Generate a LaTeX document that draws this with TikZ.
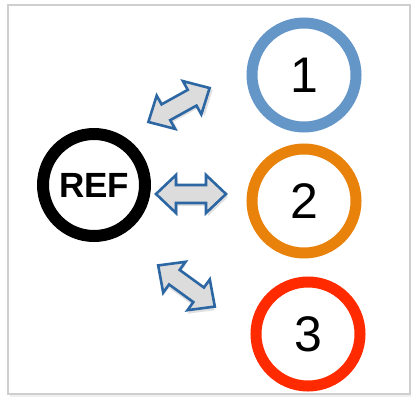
\documentclass[tikz,border=0pt]{standalone}
\usepackage{fontspec}
\setmainfont{Liberation Sans}
\usetikzlibrary{shadows}
\definecolor{ringblue}{HTML}{6496C8}
\definecolor{ringorange}{HTML}{E8820A}
\definecolor{ringred}{HTML}{FF2A00}
\definecolor{arrowedge}{HTML}{2C67A3}
\definecolor{arrowfill}{HTML}{DCDCDC}
\definecolor{framegray}{HTML}{CFCFCF}
\tikzset{
  ring/.style={circle, line width=11pt, minimum size=104pt, inner sep=0pt, fill=white,
    font=\fontsize{50}{50}\selectfont,
    drop shadow={opacity=0.18, shadow xshift=2pt, shadow yshift=-3pt}},
  refring/.style={circle, draw=black, line width=12pt, minimum size=102pt, inner sep=0pt, fill=white,
    font=\bfseries\fontsize{35}{35}\selectfont,
    drop shadow={opacity=0.18, shadow xshift=2pt, shadow yshift=-3pt}},
  arrowstyle/.style={draw=arrowedge, fill=arrowfill, line width=2.6pt, line join=miter},
  dblarr/.pic={
    \fill[black, opacity=0.12] (-33,3) -- (-13,-16) -- (-13,-6) -- (17,-6) -- (17,-16) -- (37,3) -- (17,22) -- (17,12) -- (-13,12) -- (-13,22) -- cycle;
    \draw[arrowstyle] (-35,0) -- (-15,-19) -- (-15,-9) -- (15,-9) -- (15,-19) -- (35,0) -- (15,19) -- (15,9) -- (-15,9) -- (-15,19) -- cycle;
  }
}
\begin{document}
\begin{tikzpicture}[x=1pt,y=-1pt]
\useasboundingbox (0,0) rectangle (411,398);
\fill[white] (0,0) rectangle (411,398);
\fill[black, opacity=0.06] (10,8) rectangle (411,397);
\draw[framegray, line width=2pt, fill=white] (8,5) rectangle (410,394);

\node[refring] (ref) at (94,185) {REF};
\node[ring, draw=ringblue] (c1) at (304,75) {1};
\node[ring, draw=ringorange] (c2) at (304,201) {2};
\node[ring, draw=ringred] (c3) at (308,334) {3};

\pic[rotate=29] (a1) at (179,105) {dblarr};
\pic (a2) at (191,194) {dblarr};
\pic[rotate=-36] (a3) at (186.5,286) {dblarr};
\end{tikzpicture}
\end{document}
